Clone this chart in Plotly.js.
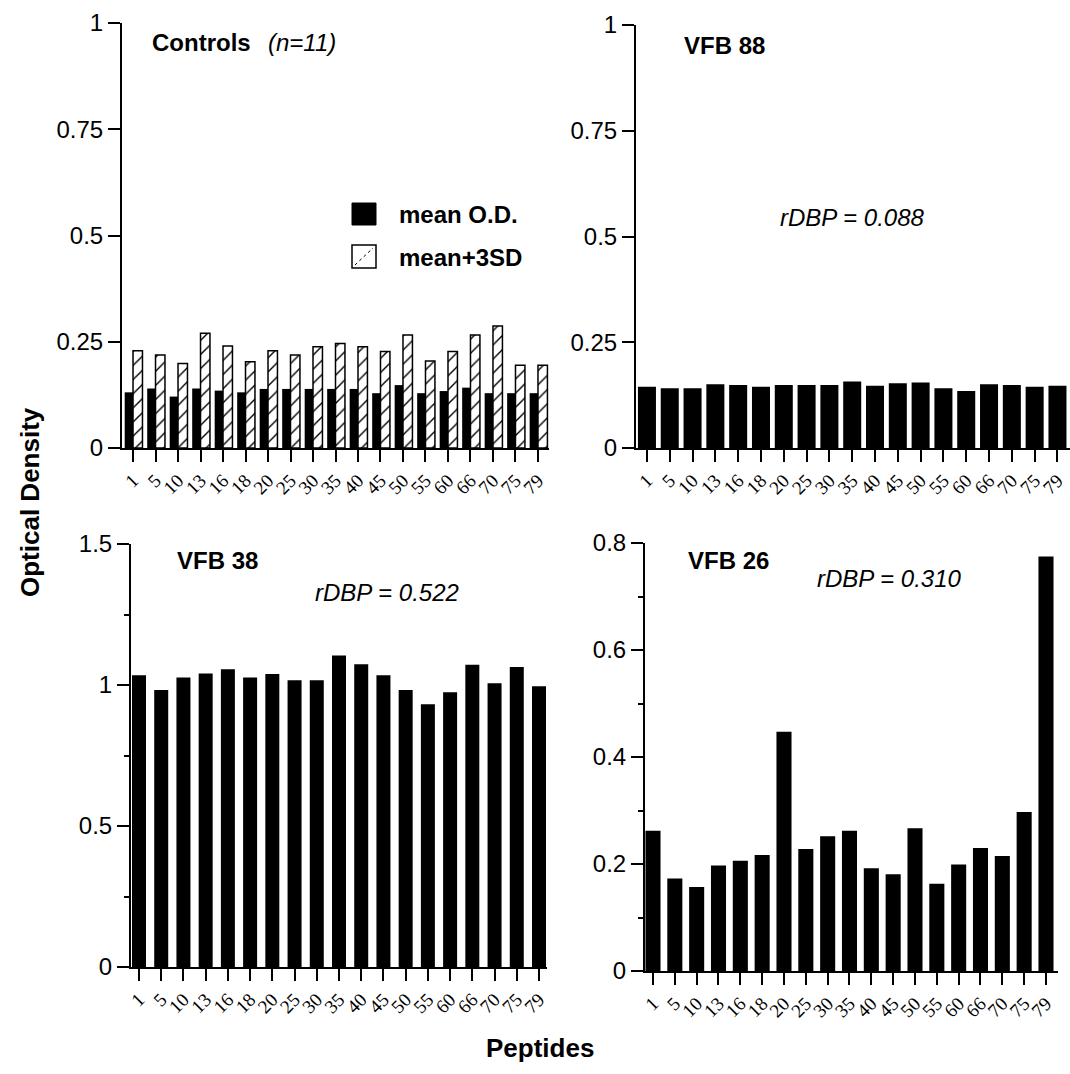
<!DOCTYPE html>
<html>
<head>
<meta charset="utf-8">
<script src="https://cdn.plot.ly/plotly-3.0.1.min.js"></script>
<style>html,body{margin:0;padding:0;background:#fff;}#chart{width:1070px;height:1074px;}</style>
</head>
<body>
<div id="chart"></div>
<script>
// ---- data ----
const peptides = ["1","5","10","13","16","18","20","25","30","35","40","45","50","55","60","66","70","75","79"];
const controlsMean = [0.131,0.140,0.121,0.140,0.135,0.131,0.139,0.139,0.139,0.139,0.139,0.129,0.148,0.129,0.134,0.142,0.129,0.129,0.129];
const controlsMean3SD = [0.229,0.219,0.199,0.270,0.240,0.203,0.229,0.219,0.238,0.246,0.238,0.227,0.266,0.205,0.227,0.266,0.287,0.195,0.195];
const vfb88 = [0.145,0.141,0.141,0.151,0.149,0.145,0.149,0.149,0.149,0.157,0.147,0.153,0.155,0.141,0.135,0.151,0.149,0.145,0.147];
const vfb38 = [1.035,0.982,1.027,1.041,1.056,1.027,1.039,1.017,1.017,1.105,1.074,1.035,0.982,0.932,0.974,1.072,1.006,1.064,0.996];
const vfb26 = [0.262,0.173,0.157,0.197,0.206,0.217,0.447,0.228,0.252,0.262,0.192,0.181,0.267,0.163,0.199,0.230,0.215,0.297,0.775];
const legendLabels = ["mean O.D.", "mean+3SD"];
const panelTitles = ["Controls", "VFB 88", "VFB 38", "VFB 26"];
const rdbpTexts = ["rDBP = 0.088", "rDBP = 0.522", "rDBP = 0.310"];

// ---- layout helpers ----
const W = 1070, H = 1074;
const px = v => v / W;
const py = v => 1 - v / H;
const SANS = "Liberation Sans, Arial, Helvetica, sans-serif";
const SERIF = "Liberation Serif, Times New Roman, serif";

const traces = [
  {type:"bar", x:peptides, y:controlsMean, name:legendLabels[0], xaxis:"x", yaxis:"y",
   offset:-0.37, width:0.37, marker:{color:"#000", line:{width:0}}, showlegend:false},
  {type:"bar", x:peptides, y:controlsMean3SD, name:legendLabels[1], xaxis:"x", yaxis:"y",
   offset:0.0, width:0.42,
   marker:{color:"#fff", line:{color:"#000", width:1.5},
           pattern:{shape:"/", fgcolor:"#000", bgcolor:"#fff", size:10, solidity:0.14}}, showlegend:false},
  {type:"bar", x:peptides, y:vfb88, name:panelTitles[1], xaxis:"x2", yaxis:"y2",
   width:0.79, marker:{color:"#000", line:{width:0}}, showlegend:false},
  {type:"bar", x:peptides, y:vfb38, name:panelTitles[2], xaxis:"x3", yaxis:"y3",
   width:0.63, marker:{color:"#000", line:{width:0}}, showlegend:false},
  {type:"bar", x:peptides, y:vfb26, name:panelTitles[3], xaxis:"x4", yaxis:"y4",
   width:0.69, marker:{color:"#000", line:{width:0}}, showlegend:false}
];

function xax(domain, range, anchor){
  return {domain:domain, range:range, anchor:anchor, type:"category",
    tickmode:"array", tickvals:peptides, ticktext:peptides,
    showline:true, linecolor:"#000", linewidth:2, showgrid:false, zeroline:false,
    ticks:"outside", ticklen:12, tickwidth:2, tickcolor:"#000", tickangle:-45,
    tickfont:{family:SERIF, size:19, color:"#000"}, fixedrange:true};
}
function yax(domain, range, dtick, anchor, minor){
  const a = {domain:domain, range:range, dtick:dtick, tick0:0, anchor:anchor,
    showline:true, linecolor:"#000", linewidth:2, showgrid:false, zeroline:false,
    ticks:"outside", ticklen:12, tickwidth:2, tickcolor:"#000",
    tickfont:{family:SANS, size:24, color:"#000"}, fixedrange:true};
  if (minor) a.minor = {dtick:minor, ticks:"outside", ticklen:5, tickwidth:2, tickcolor:"#000", showgrid:false};
  return a;
}

const layout = {
  width:W, height:H, margin:{l:0,r:0,t:0,b:0}, paper_bgcolor:"#fff", plot_bgcolor:"rgba(0,0,0,0)",
  barmode:"overlay", showlegend:false,
  xaxis: xax([px(122), px(549)], [-0.49, 18.49], "y"),
  yaxis: yax([py(448), py(23)], [0, 1], 0.25, "x"),
  xaxis2: xax([px(636), 1], [-0.48, 18.55], "y2"),
  yaxis2: yax([py(448), py(25)], [0, 1], 0.25, "x2"),
  xaxis3: xax([px(131), px(547)], [-0.36, 18.36], "y3"),
  yaxis3: yax([py(967), py(544)], [0, 1.5], 0.5, "x3", 0.25),
  xaxis4: xax([px(645), px(1058)], [-0.366, 18.55], "y4"),
  yaxis4: yax([py(971), py(543)], [0, 0.8], 0.2, "x4", 0.1),
  shapes: [
    {type:"rect", xref:"paper", yref:"paper", x0:px(352), x1:px(376), y0:py(225), y1:py(203),
     fillcolor:"#000", line:{color:"#000", width:1}},
    {type:"rect", xref:"paper", yref:"paper", x0:px(352), x1:px(376), y0:py(268), y1:py(245),
     fillcolor:"#fff", line:{color:"#000", width:1.5}},
    {type:"line", xref:"paper", yref:"paper", x0:px(355), x1:px(373), y0:py(265), y1:py(248),
     line:{color:"#000", width:1, dash:"dot"}}
  ],
  annotations: [
    {text:"<b>"+panelTitles[0]+"</b>", xref:"paper", yref:"paper", x:px(150), y:py(43), xanchor:"left", yanchor:"middle", showarrow:false, font:{family:SANS, size:24, color:"#000"}},
    {text:"<i>(n=11)</i>", xref:"paper", yref:"paper", x:px(266), y:py(43), xanchor:"left", yanchor:"middle", showarrow:false, font:{family:SANS, size:24, color:"#000"}},
    {text:"<b>"+legendLabels[0]+"</b>", xref:"paper", yref:"paper", x:px(397), y:py(214), xanchor:"left", yanchor:"middle", showarrow:false, font:{family:SANS, size:24, color:"#000"}},
    {text:"<b>"+legendLabels[1]+"</b>", xref:"paper", yref:"paper", x:px(397), y:py(257), xanchor:"left", yanchor:"middle", showarrow:false, font:{family:SANS, size:24, color:"#000"}},
    {text:"<b>"+panelTitles[1]+"</b>", xref:"paper", yref:"paper", x:px(682), y:py(45), xanchor:"left", yanchor:"middle", showarrow:false, font:{family:SANS, size:24, color:"#000"}},
    {text:"<i>"+rdbpTexts[0]+"</i>", xref:"paper", yref:"paper", x:px(778), y:py(218), xanchor:"left", yanchor:"middle", showarrow:false, font:{family:SANS, size:24, color:"#000"}},
    {text:"<b>"+panelTitles[2]+"</b>", xref:"paper", yref:"paper", x:px(175), y:py(560), xanchor:"left", yanchor:"middle", showarrow:false, font:{family:SANS, size:24, color:"#000"}},
    {text:"<i>"+rdbpTexts[1]+"</i>", xref:"paper", yref:"paper", x:px(313), y:py(593), xanchor:"left", yanchor:"middle", showarrow:false, font:{family:SANS, size:24, color:"#000"}},
    {text:"<b>"+panelTitles[3]+"</b>", xref:"paper", yref:"paper", x:px(686), y:py(560), xanchor:"left", yanchor:"middle", showarrow:false, font:{family:SANS, size:24, color:"#000"}},
    {text:"<i>"+rdbpTexts[2]+"</i>", xref:"paper", yref:"paper", x:px(815), y:py(578), xanchor:"left", yanchor:"middle", showarrow:false, font:{family:SANS, size:24, color:"#000"}},
    {text:"<b>Optical Density</b>", xref:"paper", yref:"paper", x:px(30), y:py(502), xanchor:"center", yanchor:"middle", textangle:-90, showarrow:false, font:{family:SANS, size:26, color:"#000"}},
    {text:"<b>Peptides</b>", xref:"paper", yref:"paper", x:px(540), y:py(1048), xanchor:"center", yanchor:"middle", showarrow:false, font:{family:SANS, size:26, color:"#000"}}
  ]
};

Plotly.newPlot("chart", traces, layout, {staticPlot:true, displayModeBar:false});
</script>
</body>
</html>
